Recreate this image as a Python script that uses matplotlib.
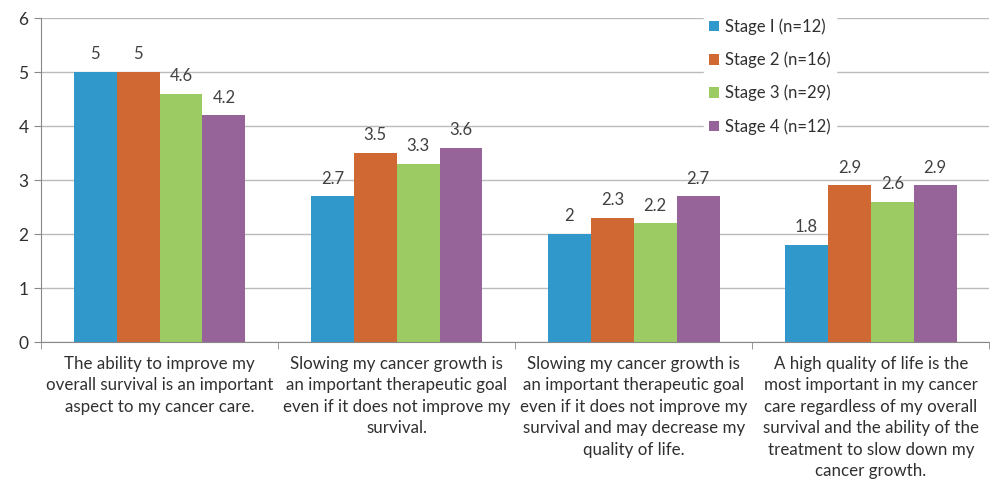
import matplotlib.pyplot as plt
import numpy as np

plt.rcParams['font.family'] = ['Lato', 'DejaVu Sans']

categories = [
    "The ability to improve my\noverall survival is an important\naspect to my cancer care.",
    "Slowing my cancer growth is\nan important therapeutic goal\neven if it does not improve my\nsurvival.",
    "Slowing my cancer growth is\nan important therapeutic goal\neven if it does not improve my\nsurvival and may decrease my\nquality of life.",
    "A high quality of life is the\nmost important in my cancer\ncare regardless of my overall\nsurvival and the ability of the\ntreatment to slow down my\ncancer growth.",
]
series_names = ["Stage I (n=12)", "Stage 2 (n=16)", "Stage 3 (n=29)", "Stage 4 (n=12)"]
stage1 = [5, 2.7, 2, 1.8]
stage2 = [5, 3.5, 2.3, 2.9]
stage3 = [4.6, 3.3, 2.2, 2.6]
stage4 = [4.2, 3.6, 2.7, 2.9]
colors = ["#3198CB", "#CF6832", "#9BCB62", "#97649A"]

fig = plt.figure(figsize=(9.9, 4.88), dpi=100)
ax = fig.add_axes([0.0414, 0.299, 0.958, 0.664])

x = np.arange(len(categories))
width = 0.181
for i, (vals, name, c) in enumerate(zip([stage1, stage2, stage3, stage4], series_names, colors)):
    pos = x + (i - 1.5) * width
    bars = ax.bar(pos, vals, width, color=c, label=name, zorder=2)
    for b, v in zip(bars, vals):
        ax.annotate(f"{v:g}", (b.get_x() + b.get_width() / 2, v), xytext=(0, 7),
                    textcoords="offset points", ha="center", va="bottom",
                    fontsize=12, color="#404040")

ax.set_xlim(-0.5, len(categories) - 0.5)
ax.set_ylim(0, 6)
ax.set_yticks(range(0, 7))
ax.yaxis.grid(True, color="#BBBBBB", linewidth=1, zorder=0)
ax.set_axisbelow(True)

ax.set_xticks(x)
ax.set_xticklabels(categories, fontsize=12.2, color="#303030", linespacing=1.42)
ax.tick_params(axis='x', length=0, pad=10)
ax.set_xticks(np.arange(-0.5, len(categories)), minor=True)
ax.tick_params(axis='x', which='minor', length=5, color="#888888")
ax.tick_params(axis='y', length=5, color="#888888", labelsize=12.5, labelcolor="#303030", pad=4)

for s in ['top', 'right']:
    ax.spines[s].set_visible(False)
for s in ['left', 'bottom']:
    ax.spines[s].set_color("#888888")

leg = ax.legend(loc='upper left', bbox_to_anchor=(0.69, 1.04), frameon=True,
                fontsize=12, handlelength=0.6, handleheight=0.6, handletextpad=0.4,
                labelspacing=1.0, borderpad=0.3)
leg.get_frame().set_edgecolor('white')
leg.get_frame().set_facecolor('white')
leg.get_frame().set_alpha(1)
for t in leg.get_texts():
    t.set_color("#303030")

fig.savefig("out.png", dpi=100)
